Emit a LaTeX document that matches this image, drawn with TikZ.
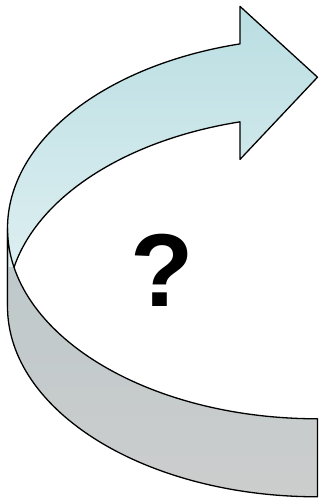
\documentclass[tikz,border=0pt]{standalone}
\usepackage{fontspec}
\setmainfont{Liberation Sans}
\definecolor{arrowtop}{RGB}{186,222,226}
\definecolor{arrowbot}{RGB}{226,241,243}
\definecolor{backtop}{RGB}{188,200,202}
\definecolor{backbot}{RGB}{204,205,205}
\tikzset{
  ribbon/.style={draw=black,line width=1.3bp,line join=round},
  frontband/.style={top color=arrowtop,bottom color=arrowbot},
  backband/.style={top color=backtop,bottom color=backbot},
  ell/.style={x radius=310bp,y radius=190.5bp}
}
\begin{document}
\begin{tikzpicture}[x=1bp,y=1bp]
\useasboundingbox (0,0) rectangle (322,498);
% front of the arrow
\shade[frontband] (7.5,191.7) arc[start angle=180,end angle=104.48,ell]
  -- (240,338.6) -- (317.5,420.8) -- (240,491.6) -- (240,454.1)
  arc[start angle=104.48,end angle=180,ell] -- cycle;
\draw[ribbon] (7.5,191.7) arc[start angle=180,end angle=104.48,ell]
  -- (240,338.6) -- (317.5,420.8) -- (240,491.6) -- (240,454.1)
  arc[start angle=104.48,end angle=180,ell] -- cycle;
% back of the band
\begin{scope}
\clip (0,0) rectangle (322,230.7);
\shade[backband] (7.5,269.7) arc[start angle=180,end angle=270,ell]
  -- (317.5,1.2) arc[start angle=270,end angle=180,ell] -- cycle;
\end{scope}
\draw[ribbon] (7.5,269.7) arc[start angle=180,end angle=270,ell]
  -- (317.5,1.2) arc[start angle=270,end angle=180,ell] -- cycle;
\node[inner sep=0pt,font=\fontsize{104}{104}\selectfont\bfseries] (qmark) at (162,228) {?};
\end{tikzpicture}
\end{document}
